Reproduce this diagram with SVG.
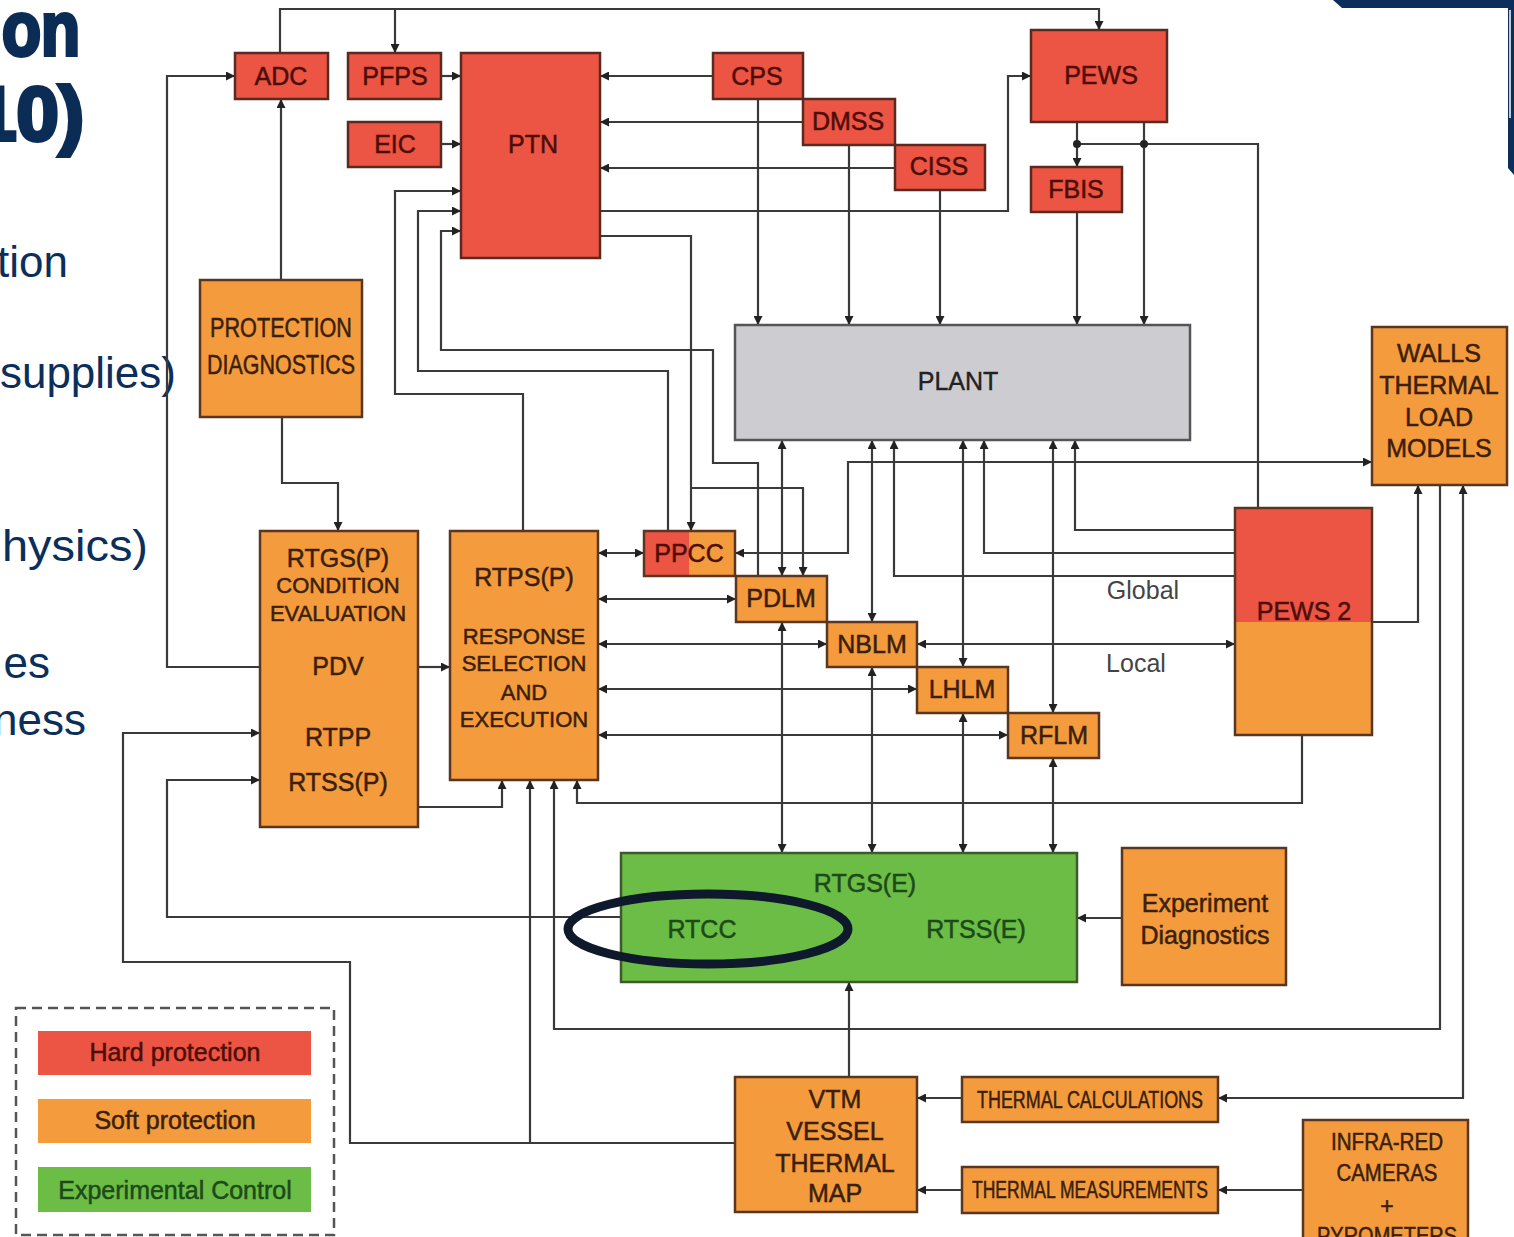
<svg xmlns="http://www.w3.org/2000/svg" width="1514" height="1237" viewBox="0 0 1514 1237">
<defs>
<marker id="a" viewBox="0 0 10 10" refX="10" refY="5" markerWidth="10" markerHeight="9" markerUnits="userSpaceOnUse" orient="auto-start-reverse"><path d="M0,0 L10,5 L0,10 z" fill="#222"/></marker>
<style>
.ln{fill:none;stroke:#3a3a3a;stroke-width:2.2}
.red{fill:#ec5443;stroke:#5a2a20;stroke-width:2.5}
.org{fill:#f49b3e;stroke:#5a3520;stroke-width:2.5}
.grn{fill:#6cbd45;stroke:#3d5a2c;stroke-width:2.5}
.gry{fill:#cdcdd1;stroke:#555;stroke-width:2.5}
text{font-family:"Liberation Sans",Arial,sans-serif;text-anchor:middle}
.t{font-size:25px}
.s{font-size:22px}
.tr{fill:#4e0e08;stroke:#4e0e08;stroke-width:0.5}
.to{fill:#3b1f0a;stroke:#3b1f0a;stroke-width:0.5}
.tg{fill:#1d4a1a;stroke:#1d4a1a;stroke-width:0.5}
.slide{fill:#0b2f5a;font-size:44px;text-anchor:end}
.title{fill:#0a2c55;stroke:#0a2c55;stroke-width:4;font-size:76px;font-weight:bold;text-anchor:end}
</style>
</defs>
<rect width="1514" height="1237" fill="#fff"/>

<g id="slide-bg">
<text class="title" x="80" y="55" textLength="78" lengthAdjust="spacingAndGlyphs">on</text>
<text class="title" x="84" y="140">10)</text>
<text class="slide" x="68" y="277">tion</text>
<text class="slide" x="176" y="388">supplies)</text>
<text class="slide" x="148" y="561" textLength="146" lengthAdjust="spacingAndGlyphs">hysics)</text>
<text class="slide" x="50" y="678">es</text>
<text class="slide" x="86" y="735">ness</text>
<path d="M1333,0 H1514 V175 L1508,168 V8 H1342 Z" fill="#0b2f5a"/>
<path d="M1510,10 V118" stroke="#fff" stroke-width="1.5"/>
</g>

<g id="connectors" class="ln">
<path d="M280,53 V9 H1099 V30" marker-end="url(#a)"/>
<path d="M395,9 V53" marker-end="url(#a)"/>
<path d="M441,76 H461" marker-end="url(#a)"/>
<path d="M441,144 H461" marker-end="url(#a)"/>
<path d="M523,531 V394 H395 V191 H461" marker-end="url(#a)"/>
<path d="M668,531 V371 H418 V211 H461" marker-end="url(#a)"/>
<path d="M758,576 V463 H713 V350 H441 V231 H461" marker-end="url(#a)"/>
<path d="M713,76 H600" marker-end="url(#a)"/>
<path d="M803,122 H600" marker-end="url(#a)"/>
<path d="M895,168 H600" marker-end="url(#a)"/>
<path d="M758,99 V325" marker-end="url(#a)"/>
<path d="M849,145 V325" marker-end="url(#a)"/>
<path d="M940,190 V325" marker-end="url(#a)"/>
<path d="M600,211 H1008 V76 H1031" marker-end="url(#a)"/>
<path d="M1077,122 V167" marker-end="url(#a)"/>
<path d="M1144,122 V325" marker-end="url(#a)"/>
<path d="M1077,144 H1258 V508"/>
<path d="M1077,212 V325" marker-end="url(#a)"/>
<path d="M281,280 V99" marker-end="url(#a)"/>
<path d="M282,417 V483 H338 V531" marker-end="url(#a)"/>
<path d="M260,667 H167 V76 H235" marker-end="url(#a)"/>
<path d="M418,667 H450" marker-end="url(#a)"/>
<path d="M418,807 H502 V780" marker-end="url(#a)"/>
<path d="M600,236 H691 V531" marker-end="url(#a)"/>
<path d="M691,488 H803 V576" marker-end="url(#a)"/>
<path d="M598,553 H644" marker-start="url(#a)" marker-end="url(#a)"/>
<path d="M598,599 H736" marker-start="url(#a)" marker-end="url(#a)"/>
<path d="M598,644 H827" marker-start="url(#a)" marker-end="url(#a)"/>
<path d="M598,689 H917" marker-start="url(#a)" marker-end="url(#a)"/>
<path d="M598,735 H1008" marker-start="url(#a)" marker-end="url(#a)"/>
<path d="M782,440 V576" marker-start="url(#a)" marker-end="url(#a)"/>
<path d="M782,622 V853" marker-start="url(#a)" marker-end="url(#a)"/>
<path d="M872,440 V622" marker-start="url(#a)" marker-end="url(#a)"/>
<path d="M872,667 V853" marker-start="url(#a)" marker-end="url(#a)"/>
<path d="M963,440 V667" marker-start="url(#a)" marker-end="url(#a)"/>
<path d="M963,713 V853" marker-start="url(#a)" marker-end="url(#a)"/>
<path d="M1053,440 V713" marker-start="url(#a)" marker-end="url(#a)"/>
<path d="M1053,758 V853" marker-start="url(#a)" marker-end="url(#a)"/>
<path d="M1235,530 H1075 V440" marker-end="url(#a)"/>
<path d="M1235,553 H984 V440" marker-end="url(#a)"/>
<path d="M1235,576 H894 V440" marker-end="url(#a)"/>
<path d="M917,644 H1235" marker-start="url(#a)" marker-end="url(#a)"/>
<path d="M735,553 H848 V462 H1372" marker-start="url(#a)" marker-end="url(#a)"/>
<path d="M1372,622 H1418 V485" marker-end="url(#a)"/>
<path d="M1440,485 V1029 H554 V780" marker-end="url(#a)"/>
<path d="M1218,1098 H1463 V485" marker-start="url(#a)" marker-end="url(#a)"/>
<path d="M1302,735 V803 H577 V780" marker-end="url(#a)"/>
<path d="M621,917 H167 V780 H260" marker-end="url(#a)"/>
<path d="M735,1143 H350 V962 H123 V733 H260" marker-end="url(#a)"/>
<path d="M530,1143 V780" marker-end="url(#a)"/>
<path d="M849,1077 V982" marker-end="url(#a)"/>
<path d="M1122,918 H1077" marker-end="url(#a)"/>
<path d="M962,1098 H917" marker-end="url(#a)"/>
<path d="M962,1190 H917" marker-end="url(#a)"/>
<path d="M1303,1190 H1218" marker-end="url(#a)"/>
<circle cx="1077" cy="144" r="4" fill="#222" stroke="none"/>
<circle cx="1144" cy="144" r="4" fill="#222" stroke="none"/>
</g>

<g id="ADC"><rect class="red" x="235" y="53" width="93" height="46"/><text class="t tr" x="281" y="85">ADC</text></g>
<g id="PFPS"><rect class="red" x="348" y="53" width="93" height="46"/><text class="t tr" x="395" y="85">PFPS</text></g>
<g id="EIC"><rect class="red" x="348" y="122" width="93" height="45"/><text class="t tr" x="395" y="153">EIC</text></g>
<g id="PTN"><rect class="red" x="461" y="53" width="139" height="205"/><text class="t tr" x="533" y="153">PTN</text></g>
<g id="CPS"><rect class="red" x="713" y="53" width="90" height="46"/><text class="t tr" x="757" y="85">CPS</text></g>
<g id="DMSS"><rect class="red" x="803" y="99" width="92" height="46"/><text class="t tr" x="848" y="130">DMSS</text></g>
<g id="CISS"><rect class="red" x="895" y="145" width="90" height="45"/><text class="t tr" x="939" y="175">CISS</text></g>
<g id="PEWS"><rect class="red" x="1031" y="30" width="136" height="92"/><text class="t tr" x="1101" y="84">PEWS</text></g>
<g id="FBIS"><rect class="red" x="1031" y="167" width="91" height="45"/><text class="t tr" x="1076" y="198">FBIS</text></g>
<g id="PLANT"><rect class="gry" x="735" y="325" width="455" height="115"/><text class="t" x="958" y="390" fill="#222" stroke="#222" stroke-width="0.4">PLANT</text></g>
<g id="PROTECTION-DIAGNOSTICS"><rect class="org" x="200" y="280" width="162" height="137"/>
<text class="to" x="281" y="337" font-size="27" textLength="142" lengthAdjust="spacingAndGlyphs">PROTECTION</text>
<text class="to" x="281" y="374" font-size="27" textLength="148" lengthAdjust="spacingAndGlyphs">DIAGNOSTICS</text></g>
<g id="WALLS"><rect class="org" x="1372" y="327" width="135" height="158"/>
<text class="t to" x="1439" y="362">WALLS</text><text class="t to" x="1439" y="394">THERMAL</text><text class="t to" x="1439" y="426">LOAD</text><text class="t to" x="1439" y="457">MODELS</text></g>
<g id="PEWS2"><rect x="1235" y="508" width="137" height="114" fill="#ec5443"/><rect x="1235" y="622" width="137" height="113" fill="#f49b3e"/><rect x="1235" y="508" width="137" height="227" fill="none" stroke="#5a3520" stroke-width="2.5"/><text class="t tr" x="1304" y="620">PEWS 2</text></g>
<g id="labels"><text class="t" x="1143" y="599" fill="#444">Global</text><text class="t" x="1136" y="672" fill="#444">Local</text></g>
<g id="RTGSP"><rect class="org" x="260" y="531" width="158" height="296"/>
<text class="t to" x="338" y="567">RTGS(P)</text><text class="s to" x="338" y="593">CONDITION</text><text class="s to" x="338" y="621">EVALUATION</text>
<text class="t to" x="338" y="675">PDV</text><text class="t to" x="338" y="746">RTPP</text><text class="t to" x="338" y="791">RTSS(P)</text></g>
<g id="RTPSP"><rect class="org" x="450" y="531" width="148" height="249"/>
<text class="t to" x="524" y="586">RTPS(P)</text><text class="s to" x="524" y="644">RESPONSE</text><text class="s to" x="524" y="671">SELECTION</text><text class="s to" x="524" y="700">AND</text><text class="s to" x="524" y="727">EXECUTION</text></g>
<g id="PPCC"><rect x="644" y="531" width="45" height="45" fill="#ec5443"/><rect x="689" y="531" width="46" height="45" fill="#f49b3e"/><rect x="644" y="531" width="91" height="45" fill="none" stroke="#5a3520" stroke-width="2.5"/><text class="t tr" x="689" y="562">PPCC</text></g>
<g id="PDLM"><rect class="org" x="736" y="576" width="91" height="46"/><text class="t to" x="781" y="607">PDLM</text></g>
<g id="NBLM"><rect class="org" x="827" y="622" width="90" height="45"/><text class="t to" x="872" y="653">NBLM</text></g>
<g id="LHLM"><rect class="org" x="917" y="667" width="91" height="46"/><text class="t to" x="962" y="698">LHLM</text></g>
<g id="RFLM"><rect class="org" x="1008" y="713" width="91" height="45"/><text class="t to" x="1054" y="744">RFLM</text></g>
<g id="RTGSE"><rect class="grn" x="621" y="853" width="456" height="129"/>
<text class="t tg" x="865" y="892">RTGS(E)</text><text class="t tg" x="702" y="938">RTCC</text><text class="t tg" x="976" y="938">RTSS(E)</text>
<ellipse cx="708" cy="929" rx="140" ry="35" fill="none" stroke="#0e1a2b" stroke-width="9"/></g>
<g id="ExpDiag"><rect class="org" x="1122" y="848" width="164" height="137"/><text class="t to" x="1205" y="912">Experiment</text><text class="t to" x="1205" y="944">Diagnostics</text></g>
<g id="VTM"><rect class="org" x="735" y="1077" width="182" height="135"/>
<text class="t to" x="835" y="1108">VTM</text><text class="t to" x="835" y="1140">VESSEL</text><text class="t to" x="835" y="1172">THERMAL</text><text class="t to" x="835" y="1202">MAP</text></g>
<g id="ThermalCalc"><rect class="org" x="962" y="1077" width="256" height="45"/><text class="to" x="1090" y="1108" font-size="23" textLength="226" lengthAdjust="spacingAndGlyphs">THERMAL CALCULATIONS</text></g>
<g id="ThermalMeas"><rect class="org" x="962" y="1167" width="256" height="46"/><text class="to" x="1090" y="1198" font-size="23" textLength="236" lengthAdjust="spacingAndGlyphs">THERMAL MEASUREMENTS</text></g>
<g id="InfraRed"><rect class="org" x="1303" y="1120" width="165" height="130"/>
<text class="to" x="1387" y="1150" font-size="23" textLength="112" lengthAdjust="spacingAndGlyphs">INFRA-RED</text>
<text class="to" x="1387" y="1181" font-size="23" textLength="101" lengthAdjust="spacingAndGlyphs">CAMERAS</text>
<text class="to" x="1387" y="1214" font-size="23">+</text>
<text class="to" x="1387" y="1244" font-size="23" textLength="140" lengthAdjust="spacingAndGlyphs">PYROMETERS</text></g>
<g id="legend"><rect x="16" y="1008" width="318" height="227" fill="none" stroke="#555" stroke-width="2.5" stroke-dasharray="10 6"/>
<rect x="38" y="1031" width="273" height="44" fill="#ec5443"/><text class="t tr" x="175" y="1061">Hard protection</text>
<rect x="38" y="1099" width="273" height="44" fill="#f49b3e"/><text class="t to" x="175" y="1129">Soft protection</text>
<rect x="38" y="1167" width="273" height="45" fill="#6cbd45"/><text class="t tg" x="175" y="1199">Experimental Control</text></g>
</svg>
